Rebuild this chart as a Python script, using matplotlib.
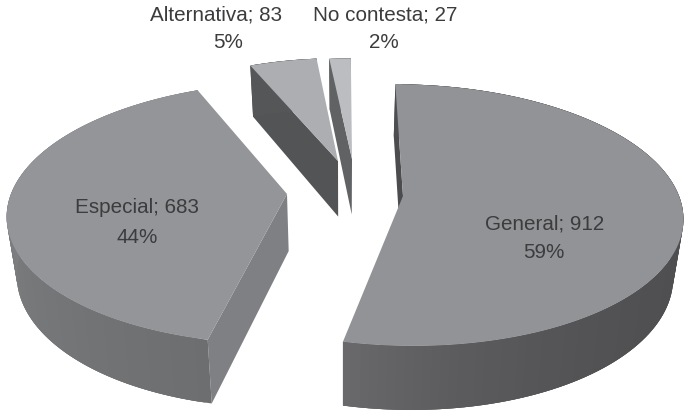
import numpy as np
import matplotlib
matplotlib.use('Agg')
import matplotlib.pyplot as plt
from matplotlib.colors import to_rgb
from matplotlib.patches import Polygon

plt.rcParams['font.family'] = ['Liberation Sans', 'DejaVu Sans']

categories = ['General', 'Especial', 'Alternativa', 'No contesta']
counts = [912, 683, 83, 27]
percents = [59, 44, 5, 2]

# layout in image pixels: where each exploded slice has its tip
tip_x = [403, 287, 338, 352]
tip_y = [196, 194, 161, 159]
scale = [1.0, 1.0, 0.92, 0.90]
name_xy = [(545, 224), (137, 207), (216, 15), (385, 15)]
pct_xy = [(544, 253), (137, 237), (228, 42), (384, 42)]

top_colors = ['#929396', '#949598', '#adaeb1', '#bcbdc1']
cut_colors = ['#4c4c4e', '#7f8083', '#535456', '#616264']
wall_start = ['#4e4e50', '#6d6e70', '#555658', '#616264']  # colour at start of arc
wall_end = ['#69696b', '#8c8d8f', '#555658', '#616264']
wall_power = [6, 1, 1, 1]  # General stays dark until close to its front edge

RX, RY = 276, 128
PERSP = 0.146
VANISH_X = 343


def top_point(i, t):
    u, v = np.sin(t), np.cos(t)
    w = 1 + PERSP * v
    x = VANISH_X + (tip_x[i] - VANISH_X + u * RX * scale[i]) / w
    y = tip_y[i] - v * RY * scale[i] / w
    return x, y


def bottom_point(x, y):
    # floor of the cylinder: pulled in a little, deeper towards the viewer
    return VANISH_X + (x - VANISH_X) * 0.97, y + 52 + 0.046 * (y - 84)


def mix(c1, c2, f):
    a, b = np.array(to_rgb(c1)), np.array(to_rgb(c2))
    return tuple(a + (b - a) * f)


fig = plt.figure(figsize=(6.86, 4.12), dpi=100)
ax = fig.add_axes([0, 0, 1, 1])
ax.set_xlim(0, 686)
ax.set_ylim(412, 0)
ax.axis('off')

edges = np.radians(np.concatenate([[0], np.cumsum(counts) / np.sum(counts) * 360]))

for i in range(len(counts)):
    t = np.linspace(edges[i], edges[i + 1], 121)
    xs, ys = top_point(i, t)
    bx, by = bottom_point(xs, ys)

    # the cut face on the slice's starting edge
    tbx, tby = bottom_point(tip_x[i], tip_y[i])
    ax.add_patch(Polygon([(xs[0], ys[0]), (tip_x[i], tip_y[i]), (tbx, tby), (bx[0], by[0])],
                         facecolor=cut_colors[i], edgecolor='none'))

    # outer wall as strips, each one running on under the next so no seams show
    for j in range(len(t) - 1):
        c = mix(wall_start[i], wall_end[i], (j / (len(t) - 2)) ** wall_power[i])
        k = min(j + 3, len(t) - 1)
        strip = np.column_stack([np.r_[xs[j:k + 1], bx[j:k + 1][::-1]],
                                 np.r_[ys[j:k + 1], by[j:k + 1][::-1]]])
        ax.add_patch(Polygon(strip, facecolor=c, edgecolor='none'))

    ax.add_patch(Polygon(np.column_stack([np.r_[xs, tip_x[i]], np.r_[ys, tip_y[i]]]),
                         facecolor=top_colors[i], edgecolor='none'))

for i in range(len(categories)):
    ax.text(name_xy[i][0], name_xy[i][1], f'{categories[i]}; {counts[i]}', ha='center',
            va='center', fontsize=14.9, color='#3c3c3e')
    ax.text(pct_xy[i][0], pct_xy[i][1], f'{percents[i]}%', ha='center',
            va='center', fontsize=14.9, color='#3c3c3e')

fig.savefig('out.png', dpi=100, facecolor='white')
plt.close(fig)
